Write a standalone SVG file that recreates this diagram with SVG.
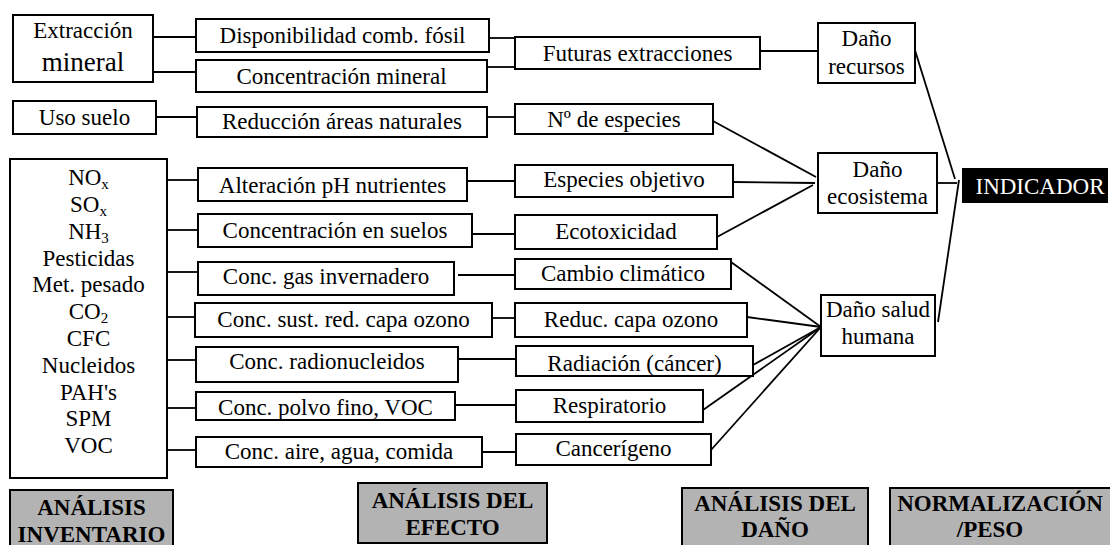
<svg xmlns="http://www.w3.org/2000/svg" width="1110" height="545" viewBox="0 0 1110 545">
<style>
rect.b{fill:#fff;stroke:#000;stroke-width:2}
rect.g{fill:#b3b3b3;stroke:#000;stroke-width:2}
text{font-family:'Liberation Serif','Times New Roman',serif;font-size:23px;fill:#000;text-anchor:middle}
text.h{font-weight:bold;font-size:23px}
.sub{font-size:15px}
#connectors line{stroke:#000;stroke-width:1.8}
</style>
<rect width="1110" height="545" fill="#fff"/>
<g id="connectors">
<line x1="153" y1="37" x2="196" y2="37"/>
<line x1="153" y1="72" x2="196" y2="72"/>
<line x1="489" y1="38" x2="515" y2="38"/>
<line x1="487" y1="67" x2="515" y2="67"/>
<line x1="760" y1="51" x2="818" y2="51"/>
<line x1="156" y1="117" x2="197" y2="117"/>
<line x1="487" y1="117" x2="515" y2="117"/>
<line x1="713" y1="121" x2="816" y2="177"/>
<line x1="167" y1="180" x2="198" y2="180"/>
<line x1="467" y1="181" x2="515" y2="181"/>
<line x1="733" y1="182" x2="815" y2="183"/>
<line x1="167" y1="230" x2="198" y2="230"/>
<line x1="472" y1="234" x2="515" y2="234"/>
<line x1="717" y1="237" x2="813" y2="185"/>
<line x1="167" y1="272" x2="198" y2="272"/>
<line x1="458" y1="275" x2="515" y2="275"/>
<line x1="731" y1="262" x2="821" y2="327"/>
<line x1="167" y1="317" x2="195" y2="317"/>
<line x1="492" y1="318" x2="515" y2="318"/>
<line x1="747" y1="317" x2="821" y2="327"/>
<line x1="167" y1="360" x2="196" y2="360"/>
<line x1="458" y1="359" x2="516" y2="359"/>
<line x1="753" y1="365" x2="821" y2="327"/>
<line x1="167" y1="408" x2="196" y2="408"/>
<line x1="455" y1="405" x2="516" y2="405"/>
<line x1="703" y1="410" x2="821" y2="327"/>
<line x1="167" y1="450" x2="196" y2="450"/>
<line x1="482" y1="452" x2="516" y2="452"/>
<line x1="711" y1="450" x2="821" y2="327"/>
<line x1="914" y1="47" x2="955" y2="179"/>
<line x1="937" y1="183" x2="957" y2="183"/>
<line x1="938" y1="322" x2="959" y2="180"/>
</g>
<g id="extraccion"><rect class="b" x="13" y="15" width="140" height="67"/><text x="83" y="38">Extracción</text><text x="83" y="71" style="font-size:27px">mineral</text></g>
<g id="disponibilidad"><rect class="b" x="196" y="19" width="293" height="33"/><text x="342.5" y="43">Disponibilidad comb. fósil</text></g>
<g id="concmineral"><rect class="b" x="196" y="60" width="291" height="32"/><text x="341.5" y="83.5">Concentración mineral</text></g>
<g id="futuras"><rect class="b" x="515" y="37" width="245" height="32"/><text x="637.5" y="60.5">Futuras extracciones</text></g>
<g id="danorecursos"><rect class="b" x="818" y="23" width="97" height="60"/><text x="866.5" y="46">Daño</text><text x="866.5" y="74">recursos</text></g>
<g id="uso"><rect class="b" x="13" y="101" width="143" height="33"/><text x="84.5" y="125">Uso suelo</text></g>
<g id="reduccion"><rect class="b" x="197" y="107" width="290" height="30"/><text x="342" y="128.5">Reducción áreas naturales</text></g>
<g id="nespecies"><rect class="b" x="515" y="104" width="198" height="30"/><text x="614" y="126.5">Nº de especies</text></g>
<g id="inventario"><rect class="b" x="10" y="159" width="157" height="319"/>
<text x="88.5" y="185">NO<tspan class="sub" dy="4">x</tspan></text>
<text x="88.5" y="212">SO<tspan class="sub" dy="4">x</tspan></text>
<text x="88.5" y="238.5">NH<tspan class="sub" dy="4">3</tspan></text>
<text x="88.5" y="265.5">Pesticidas</text>
<text x="88.5" y="292">Met. pesado</text>
<text x="88.5" y="319">CO<tspan class="sub" dy="4">2</tspan></text>
<text x="88.5" y="346">CFC</text>
<text x="88.5" y="372.5">Nucleidos</text>
<text x="88.5" y="399.5">PAH's</text>
<text x="88.5" y="426">SPM</text>
<text x="88.5" y="453">VOC</text>
</g>
<g id="alteracion"><rect class="b" x="198" y="168" width="269" height="33"/><text x="332.5" y="193">Alteración pH nutrientes</text></g>
<g id="concsuelos"><rect class="b" x="198" y="214" width="274" height="33"/><text x="335" y="238">Concentración en suelos</text></g>
<g id="gas"><rect class="b" x="198" y="262" width="256" height="33"/><text x="326" y="283.5">Conc. gas invernadero</text></g>
<g id="sustozono"><rect class="b" x="195" y="303" width="297" height="34"/><text x="343.5" y="327">Conc. sust. red. capa ozono</text></g>
<g id="radionucleidos"><rect class="b" x="196" y="347" width="262" height="35"/><text x="327" y="368.5">Conc. radionucleidos</text></g>
<g id="polvo"><rect class="b" x="196" y="392" width="259" height="28"/><text x="325.5" y="414.5">Conc. polvo fino, VOC</text></g>
<g id="aire"><rect class="b" x="196" y="437" width="286" height="30"/><text x="339" y="458.5">Conc. aire, agua, comida</text></g>
<g id="especiesobj"><rect class="b" x="515" y="165" width="218" height="32"/><text x="624" y="187">Especies objetivo</text></g>
<g id="ecotox"><rect class="b" x="515" y="215" width="202" height="34"/><text x="616" y="238.5">Ecotoxicidad</text></g>
<g id="cambio"><rect class="b" x="515" y="259" width="216" height="30"/><text x="623" y="281">Cambio climático</text></g>
<g id="reducozono"><rect class="b" x="515" y="303" width="232" height="34"/><text x="631" y="326.5">Reduc. capa ozono</text></g>
<g id="radiacion"><rect class="b" x="516" y="346" width="237" height="30"/><text x="634.5" y="370.5">Radiación (cáncer)</text></g>
<g id="respiratorio"><rect class="b" x="516" y="390" width="187" height="32"/><text x="609.5" y="413">Respiratorio</text></g>
<g id="cancerigeno"><rect class="b" x="516" y="434" width="195" height="31"/><text x="613.5" y="456">Cancerígeno</text></g>
<g id="danoeco"><rect class="b" x="818" y="153" width="119" height="60"/><text x="877.5" y="177">Daño</text><text x="877.5" y="203.5">ecosistema</text></g>
<g id="danosalud"><rect class="b" x="821" y="295" width="114" height="61"/><text x="878" y="317">Daño salud</text><text x="878" y="344">humana</text></g>
<g id="indicador"><rect x="962" y="168" width="146" height="35" fill="#000"/><text x="1040" y="193.5" style="fill:#fff">INDICADOR</text></g>
<g id="lbl-inventario"><rect class="g" x="10" y="490" width="163" height="60"/><text class="h" x="91.5" y="515">ANÁLISIS</text><text class="h" x="91.5" y="542">INVENTARIO</text></g>
<g id="lbl-efecto"><rect class="g" x="358" y="483" width="189" height="60"/><text class="h" x="452.5" y="508">ANÁLISIS DEL</text><text class="h" x="452.5" y="535">EFECTO</text></g>
<g id="lbl-dano"><rect class="g" x="682" y="488" width="186" height="62"/><text class="h" x="775" y="511">ANÁLISIS DEL</text><text class="h" x="775" y="537">DAÑO</text></g>
<g id="lbl-normalizacion"><rect class="g" x="890" y="488" width="222" height="62"/><text class="h" x="1000" y="511">NORMALIZACIÓN</text><text class="h" x="990" y="537">/PESO</text></g>
</svg>
